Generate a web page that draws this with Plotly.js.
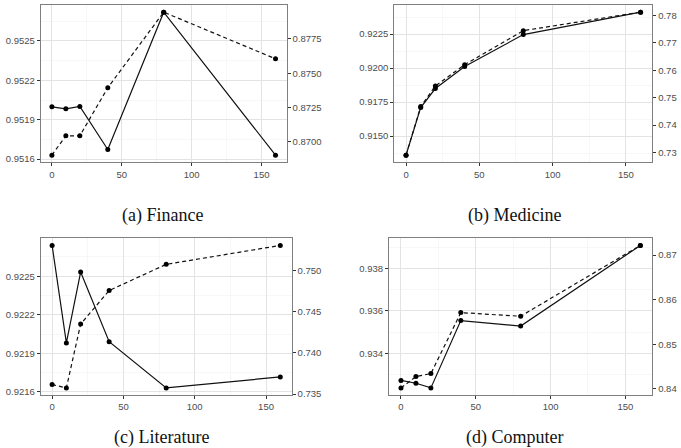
<!DOCTYPE html>
<html>
<head>
<meta charset="utf-8">
<script src="https://cdn.plot.ly/plotly-3.0.1.min.js"></script>
<style>html,body{margin:0;padding:0;background:#fff;}#chart{width:681px;height:448px;}</style>
</head>
<body>
<div id="chart"></div>
<script>
// ---- data ----
var steps = [0, 10, 20, 40, 80, 160];
var captions = ["(a) Finance", "(b) Medicine", "(c) Literature", "(d) Computer"];

var financeSolid  = [0.951998, 0.951983, 0.952001, 0.951673, 0.952719, 0.951630];
var financeDashed = [0.86903, 0.87044, 0.87044, 0.87394, 0.87945, 0.87605];

var medicineSolid  = [0.91360, 0.91710, 0.91850, 0.92012, 0.92247, 0.92412];
var medicineDashed = [0.72905, 0.74679, 0.75427, 0.76208, 0.77449, 0.78124];

var literatureSolid  = [0.922740, 0.921981, 0.922533, 0.921991, 0.921631, 0.921716];
var literatureDashed = [0.73616, 0.73576, 0.74351, 0.74758, 0.75076, 0.75306];

var computerSolid  = [0.93272, 0.93259, 0.93237, 0.93554, 0.93528, 0.93908];
var computerDashed = [0.84022, 0.84275, 0.84342, 0.85710, 0.85629, 0.87217];

var xTicks = [0, 50, 100, 150];

// ---- helpers ----
var W = 681, H = 448;
function pr(arr) {
  var mn = Math.min.apply(null, arr), mx = Math.max.apply(null, arr);
  var s = mx - mn;
  return [mn - 0.05 * s, mx + 0.05 * s];
}
var tickFont = {family: "Liberation Sans, Arial, sans-serif", size: 9.5, color: "#4D4D4D"};
var border = "#7F7F7F";
var gridMajor = "#E3E3E3";
var gridMinor = "#F2F2F2";

var panels = [
  {solid: financeSolid, dashed: financeDashed, px: [40.7, 286.7], py: [5, 162.3],
   l: {tick0: 0.9516, dtick: 0.0003, fmt: ".4f"}, r: {tick0: 0.87, dtick: 0.0025, fmt: ".4f"}},
  {solid: medicineSolid, dashed: medicineDashed, px: [394.3, 652.3], py: [5, 162.3],
   l: {tick0: 0.915, dtick: 0.0025, fmt: ".4f"}, r: {tick0: 0.73, dtick: 0.01, fmt: ".2f"}},
  {solid: literatureSolid, dashed: literatureDashed, px: [40.7, 291.7], py: [238.3, 395],
   l: {tick0: 0.9216, dtick: 0.0003, fmt: ".4f"}, r: {tick0: 0.735, dtick: 0.005, fmt: ".3f"}},
  {solid: computerSolid, dashed: computerDashed, px: [389, 652.3], py: [238.3, 395],
   l: {tick0: 0.934, dtick: 0.002, fmt: ".3f"}, r: {tick0: 0.84, dtick: 0.01, fmt: ".2f"}}
];
var capPos = [[162, 215.5], [514, 215.5], [161.5, 437], [514.5, 437]];

var traces = [];
var layout = {
  width: W, height: H,
  margin: {l: 0, r: 0, t: 0, b: 0},
  paper_bgcolor: "#fff", plot_bgcolor: "#fff",
  showlegend: false,
  annotations: []
};

panels.forEach(function (p, i) {
  var xi = i + 1;
  var yl = 2 * i + 1, yr = 2 * i + 2;
  var xn = xi === 1 ? "x" : "x" + xi;
  var yln = yl === 1 ? "y" : "y" + yl;
  var yrn = "y" + yr;
  traces.push({x: steps, y: p.solid, xaxis: xn, yaxis: yln, type: "scatter", mode: "lines+markers",
    line: {color: "#111", width: 1.2}, marker: {color: "#000", size: 5}});
  traces.push({x: steps, y: p.dashed, xaxis: xn, yaxis: yrn, type: "scatter", mode: "lines+markers",
    line: {color: "#111", width: 1.2, dash: "4px,3px"}, marker: {color: "#000", size: 5}});

  layout["xaxis" + (xi === 1 ? "" : xi)] = {
    domain: [p.px[0] / W, p.px[1] / W], anchor: yln, range: [-8, 168],
    tickvals: xTicks, ticktext: xTicks.map(String),
    ticks: "outside", ticklen: 3, tickcolor: "#333", tickfont: tickFont,
    showline: true, mirror: true, linecolor: border, linewidth: 1,
    showgrid: true, gridcolor: gridMajor, gridwidth: 1, zeroline: false,
    minor: {tickvals: [25, 75, 125], showgrid: true, gridcolor: gridMinor, gridwidth: 0.6}
  };
  var rl = pr(p.solid), rr = pr(p.dashed);
  var minorL = [];
  for (var v = p.l.tick0 - p.l.dtick / 2; v < rl[1]; v += p.l.dtick) { if (v > rl[0]) minorL.push(v); }
  layout["yaxis" + (yl === 1 ? "" : yl)] = {
    domain: [1 - p.py[1] / H, 1 - p.py[0] / H], anchor: xn, range: rl,
    tickmode: "linear", tick0: p.l.tick0, dtick: p.l.dtick, tickformat: p.l.fmt,
    ticks: "outside", ticklen: 3, tickcolor: "#333", tickfont: tickFont,
    showline: true, mirror: true, linecolor: border, linewidth: 1,
    showgrid: true, gridcolor: gridMajor, gridwidth: 1, zeroline: false,
    minor: {tickmode: "array", tickvals: minorL, showgrid: true, gridcolor: gridMinor, gridwidth: 0.6}
  };
  layout["yaxis" + yr] = {
    overlaying: yln, side: "right", anchor: xn, range: rr,
    tickmode: "linear", tick0: p.r.tick0, dtick: p.r.dtick, tickformat: p.r.fmt,
    ticks: "outside", ticklen: 3, tickcolor: "#333", tickfont: tickFont,
    showline: false, showgrid: false, zeroline: false
  };
  layout.annotations.push({
    text: captions[i], xref: "paper", yref: "paper",
    x: capPos[i][0] / W, y: 1 - capPos[i][1] / H, xanchor: "center", yanchor: "middle",
    showarrow: false, font: {family: "Liberation Serif, Times New Roman, serif", size: 18, color: "#111"}
  });
});

Plotly.newPlot("chart", traces, layout, {staticPlot: true, displayModeBar: false});
</script>
</body>
</html>
